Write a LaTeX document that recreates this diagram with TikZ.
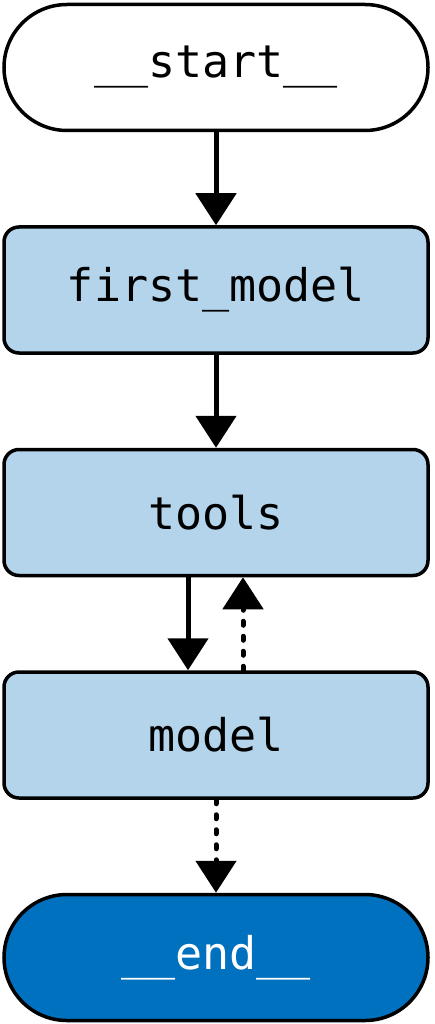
\documentclass[tikz,border=0pt]{standalone}
\usepackage{fontspec}
\setmonofont{DejaVu Sans Mono}
\usetikzlibrary{positioning,arrows.meta}
\definecolor{nodeblue}{RGB}{179,212,235}
\definecolor{endblue}{RGB}{0,113,190}
\tikzset{
  >={Triangle[width=40pt,length=32pt]},
  box/.style   ={draw, line width=3.5pt, fill=nodeblue, rounded corners=15pt,
                 minimum width=424pt, minimum height=126pt,
                 font=\ttfamily\fontsize{45}{54}\selectfont},
  term/.style  ={box, rounded corners=63pt},
}

\begin{document}
\begin{tikzpicture}[x=1pt, y=-1pt, node distance=93pt,
  edge/.style={line width=5pt, ->},
  cond/.style={edge, line cap=round, dash pattern=on 4pt off 11pt}
]
\useasboundingbox (0,0) rectangle (434,1024);

%--- Nodes (stacked top to bottom) ---
\node[term, fill=white] (start) at (216,67.5) {\_\_start\_\_};
\node[box, below=of start] (first) {first\_model};
\node[box, below=of first] (tools) {tools};
\node[box, below=of tools] (model) {model};
\node[term, fill=endblue, text=white, below=of model] (end) {\_\_end\_\_};

%--- Edges ---
\draw[edge] (start) -- (first);
\draw[edge] (first) -- (tools);
\draw[edge] ([xshift=-28pt]tools.south) -- ([xshift=-28pt]model.north);

% Conditional edges (dotted)
\draw[cond] ([xshift=27pt]model.north) -- ([xshift=27pt]tools.south);
\draw[cond] (model) -- (end);

\end{tikzpicture}
\end{document}
